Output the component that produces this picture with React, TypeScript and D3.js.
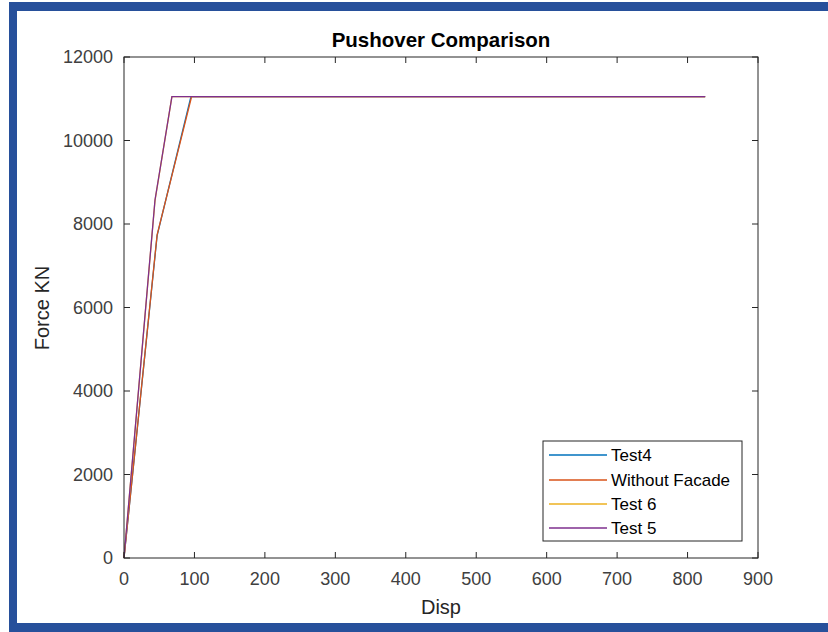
import React from "react";
import * as d3 from "d3";

// Pushover curves: [displacement, force kN]
const test4: [number, number][] = [[0, 0], [47, 7720], [95, 11050], [825, 11050]];
const withoutFacade: [number, number][] = [[0, 0], [47, 7740], [96, 11050], [825, 11050]];
const test6: [number, number][] = [[0, 0], [44, 8560], [68, 11050], [825, 11050]];
const test5: [number, number][] = [[0, 0], [44, 8575], [68, 11050], [825, 11050]];

const seriesNames = ["Test4", "Without Facade", "Test 6", "Test 5"];
const seriesData = [test4, withoutFacade, test6, test5];
const seriesColors = ["#0072BD", "#D95319", "#EDB120", "#7E2F8E"];

const xTicks = [0, 100, 200, 300, 400, 500, 600, 700, 800, 900];
const yTicks = [0, 2000, 4000, 6000, 8000, 10000, 12000];

const W = 828;
const H = 632;
const plot = { left: 124, right: 758, top: 57, bottom: 558 };
const axisColor = "#262626";
const font = "'Liberation Sans', Arial, Helvetica, sans-serif";

export default function App() {
  const x = d3.scaleLinear().domain([0, 900]).range([plot.left, plot.right]);
  const y = d3.scaleLinear().domain([0, 12000]).range([plot.bottom, plot.top]);
  const line = d3
    .line<[number, number]>()
    .x((d) => x(d[0]))
    .y((d) => y(d[1]));
  const tick = 6;

  const legend = { x: 543, y: 441, w: 199, h: 100 };
  const legendRows = [455, 480, 504, 528];

  return (
    <svg
      width={W}
      height={H}
      style={{ position: "absolute", left: 0, top: 0, background: "#fff" }}
      fontFamily={font}
    >
      {/* frame */}
      <rect x={0} y={0} width={W} height={H} fill="#fff" />
      <rect x={9} y={2} width={W - 9} height={9} fill="#27509b" />
      <rect x={9} y={2} width={8} height={H - 2} fill="#27509b" />
      <rect x={9} y={623} width={W - 9} height={9} fill="#27509b" />

      {/* curves */}
      <g fill="none" strokeWidth={1.3}>
        {seriesData.map((s, i) => (
          <path key={seriesNames[i]} d={line(s) ?? ""} stroke={seriesColors[i]} />
        ))}
      </g>

      {/* axes box */}
      <rect
        x={plot.left}
        y={plot.top}
        width={plot.right - plot.left}
        height={plot.bottom - plot.top}
        fill="none"
        stroke={axisColor}
        strokeWidth={1}
      />
      {xTicks.map((t) => (
        <g key={"x" + t}>
          <line x1={x(t)} x2={x(t)} y1={plot.bottom} y2={plot.bottom - tick} stroke={axisColor} />
          <line x1={x(t)} x2={x(t)} y1={plot.top} y2={plot.top + tick} stroke={axisColor} />
          <text x={x(t)} y={585} textAnchor="middle" fontSize={18} fill="#404040">
            {t}
          </text>
        </g>
      ))}
      {yTicks.map((t) => (
        <g key={"y" + t}>
          <line x1={plot.left} x2={plot.left + tick} y1={y(t)} y2={y(t)} stroke={axisColor} />
          <line x1={plot.right} x2={plot.right - tick} y1={y(t)} y2={y(t)} stroke={axisColor} />
          <text x={113} y={y(t) + 6} textAnchor="end" fontSize={18} fill="#404040">
            {t}
          </text>
        </g>
      ))}

      {/* titles */}
      <text x={441} y={47} textAnchor="middle" fontSize={20.5} fontWeight="bold" fill="#000">
        Pushover Comparison
      </text>
      <text x={441} y={614} textAnchor="middle" fontSize={20} fill="#262626">
        Disp
      </text>
      <text
        transform={`translate(49, 308) rotate(-90)`}
        textAnchor="middle"
        fontSize={20}
        fill="#262626"
      >
        Force KN
      </text>

      {/* legend */}
      <rect x={legend.x} y={legend.y} width={legend.w} height={legend.h} fill="#fff" stroke={axisColor} />
      {seriesNames.map((n, i) => (
        <g key={"l" + n}>
          <line x1={549} x2={607} y1={legendRows[i]} y2={legendRows[i]} stroke={seriesColors[i]} strokeWidth={1.3} />
          <text x={611} y={legendRows[i] + 6} fontSize={17} fill="#000">
            {n}
          </text>
        </g>
      ))}
    </svg>
  );
}
